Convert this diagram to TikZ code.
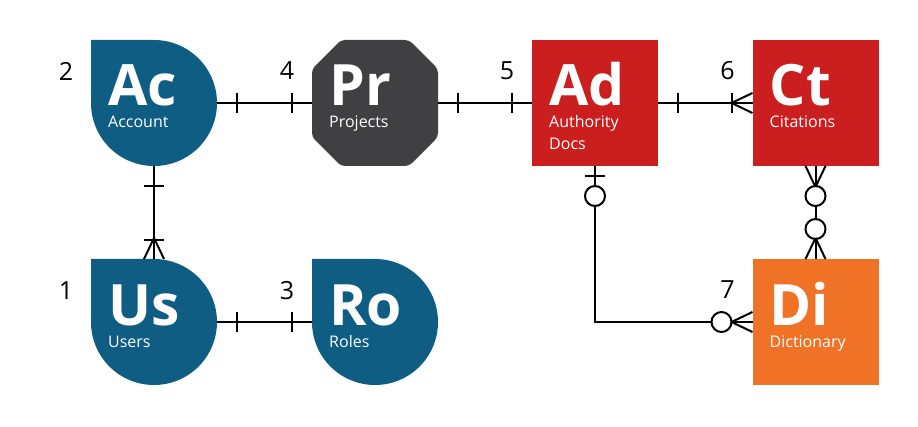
\documentclass[tikz,border=0pt]{standalone}
\usepackage{fontspec}
\setmainfont{Open Sans}
\usetikzlibrary{calc,decorations.markings}
\definecolor{tblue}{HTML}{0F5D82}
\definecolor{tgray}{HTML}{404042}
\definecolor{tred}{HTML}{CA1E1F}
\definecolor{torange}{HTML}{EF7227}
\newcommand\erbar{\draw[er] (0,-10pt) -- (0,10pt);}
\newcommand\ercrowend{\draw[er] (-21pt,0) -- (0,10pt); \draw[er] (-21pt,0) -- (0,-10pt);}
\newcommand\ercrowstart{\draw[er] (21pt,0) -- (0,10pt); \draw[er] (21pt,0) -- (0,-10pt);}
\newcommand\ercirc{\draw[er,fill=white] (0,0) circle (10pt);}
\tikzset{
  er/.style={line width=2pt, black},
  ent/.style={minimum size=126pt, inner sep=0pt, outer sep=0pt},
  sym/.style={font=\bfseries\fontsize{57}{57}\selectfont, text=white, anchor=base west, inner sep=0pt, text height=41pt, text depth=0pt},
  sub/.style={font=\fontsize{16}{19}\selectfont, text=white, anchor=base west, inner sep=0pt, text height=12pt, text depth=3pt},
  num/.style={font=\fontsize{25}{25}\selectfont, inner sep=0pt},
  conn/.style={er, postaction={decorate}},
}
\begin{document}
\begin{tikzpicture}[x=1pt,y=1pt]
\useasboundingbox (0,0) rectangle (918,426);
% entity anchors
\node[ent] (ac) at (154,323) {};
\node[ent] (pr) at (375,323) {};
\node[ent,fill=tred] (ad) at (595,323) {};
\node[ent,fill=tred] (ct) at (815.5,323) {};
\node[ent] (us) at (154,104) {};
\node[ent] (ro) at (375,104) {};
\node[ent,fill=torange] (di) at (815.5,104) {};
% teardrop shapes
\foreach \n in {ac,us,ro}{
  \fill[tblue] (\n.north west) -- (\n.north) arc[start angle=90, end angle=-180, radius=63] -- cycle;
}
% octagon
\begin{scope}[shift={(pr.center)}]
  \fill[tgray, rounded corners=4pt] (-34,63) -- (34,63) -- (63,34) -- (63,-34) -- (34,-63) -- (-34,-63) -- (-63,-34) -- (-63,34) -- cycle;
\end{scope}
% texts
\node[sym] (acs) at ($(ac.north west)+(17,-66)$) {Ac};
\node[sub] (acn) at ($(ac.north west)+(17,-88)$) {Account};
\node[sym] (prs) at ($(pr.north west)+(17,-66)$) {Pr};
\node[sub] (prn) at ($(pr.north west)+(17,-88)$) {Projects};
\node[sym] (ads) at ($(ad.north west)+(17,-66)$) {Ad};
\node[sub] (adn) at ($(ad.north west)+(17,-88)$) {Authority};
\node[sub] (adn2) at ($(ad.north west)+(17,-110)$) {Docs};
\node[sym] (cts) at ($(ct.north west)+(17,-66)$) {Ct};
\node[sub] (ctn) at ($(ct.north west)+(17,-88)$) {Citations};
\node[sym] (uss) at ($(us.north west)+(17,-66)$) {Us};
\node[sub] (usn) at ($(us.north west)+(17,-88)$) {Users};
\node[sym] (ros) at ($(ro.north west)+(17,-66)$) {Ro};
\node[sub] (ron) at ($(ro.north west)+(17,-88)$) {Roles};
\node[sym] (dis) at ($(di.north west)+(17,-66)$) {Di};
\node[sub] (din) at ($(di.north west)+(17,-88)$) {Dictionary};
% numbers
\node[num] (n1) at ($(us.north west)+(-25,-32)$) {1};
\node[num] (n2) at ($(ac.north west)+(-25,-31)$) {2};
\node[num] (n3) at ($(ro.north west)+(-25,-32)$) {3};
\node[num] (n4) at ($(pr.north west)+(-25,-31)$) {4};
\node[num] (n5) at ($(ad.north west)+(-25,-31)$) {5};
\node[num] (n6) at ($(ct.north west)+(-25,-31)$) {6};
\node[num] (n7) at ($(di.north west)+(-25,-31)$) {7};
% connectors
\draw[conn, decoration={markings, mark=at position 20pt with {\erbar}, mark=at position -20pt with {\erbar}}] (ac.east) -- (pr.west);
\draw[conn, decoration={markings, mark=at position 20pt with {\erbar}, mark=at position -20pt with {\erbar}}] (pr.east) -- (ad.west);
\draw[conn, decoration={markings, mark=at position 20pt with {\erbar}, mark=at position -21pt with {\erbar}, mark=at position -0.01pt with {\ercrowend}}] (ad.east) -- (ct.west);
\draw[conn, decoration={markings, mark=at position 20pt with {\erbar}, mark=at position -20pt with {\erbar}}] (us.east) -- (ro.west);
\draw[conn, decoration={markings, mark=at position 20pt with {\erbar}, mark=at position -19pt with {\erbar}, mark=at position -0.01pt with {\ercrowend}}] (ac.south) -- (us.north);
\draw[conn, decoration={markings, mark=at position 0.01pt with {\ercrowstart}, mark=at position 30pt with {\ercirc}, mark=at position -30pt with {\ercirc}, mark=at position -0.01pt with {\ercrowend}}] (ct.south) -- (di.north);
\draw[conn, decoration={markings, mark=at position 10pt with {\erbar}, mark=at position 30pt with {\ercirc}, mark=at position -31pt with {\ercirc}, mark=at position -0.01pt with {\ercrowend}}] (ad.south) |- (di.west);
\end{tikzpicture}
\end{document}
